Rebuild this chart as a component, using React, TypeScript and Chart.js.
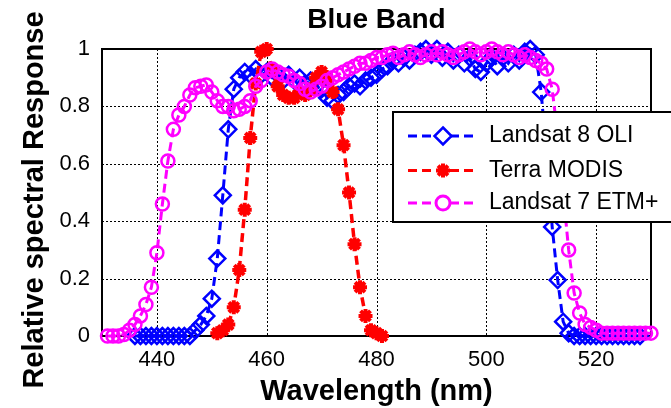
import React, { useEffect, useRef } from 'react';
import { Chart, registerables } from 'chart.js';

Chart.register(...registerables);

const chartTitle = 'Blue Band';
const xAxisTitle = 'Wavelength (nm)';
const yAxisTitle = 'Relative spectral Response';
const xTickValues = [440, 460, 480, 500, 520];
const yTickValues = [0, 0.2, 0.4, 0.6, 0.8, 1];
const seriesNames = ['Landsat 8 OLI', 'Terra MODIS', 'Landsat 7 ETM+'];
const seriesColors = ['#0000ff', '#ff0000', '#ff00ff'];

const oliWavelength = [
  436, 437, 438, 439, 440, 441, 442, 443, 444, 445, 446, 447, 448, 449, 450, 451, 452, 453, 454, 455,
  456, 457, 458, 459, 460, 461, 462, 463, 464, 465, 466, 467, 468, 469, 470, 471, 472, 473, 474, 475,
  476, 477, 478, 479, 480, 481, 482, 483, 484, 485, 486, 487, 488, 489, 490, 491, 492, 493, 494, 495,
  496, 497, 498, 499, 500, 501, 502, 503, 504, 505, 506, 507, 508, 509, 510, 511, 512, 513, 514, 515,
  516, 517, 518, 519, 520, 521, 522, 523, 524, 525, 526, 527, 528,
];
const oliResponse = [
  0, 0, 0, 0, 0, 0, 0, 0, 0, 0, 0, 0.02, 0.04, 0.07, 0.13, 0.27, 0.49, 0.72, 0.86, 0.9,
  0.92, 0.91, 0.93, 0.91, 0.92, 0.9, 0.91, 0.89, 0.91, 0.89, 0.9, 0.88, 0.89, 0.87, 0.86, 0.83, 0.82, 0.84, 0.85, 0.87,
  0.88, 0.87, 0.89, 0.9, 0.91, 0.93, 0.94, 0.96, 0.95, 0.97, 0.96, 0.98, 0.99, 1.0, 0.98, 1.0, 0.97, 0.99, 0.96, 0.98,
  0.95, 0.97, 0.93, 0.92, 0.95, 0.97, 0.94, 0.97, 0.95, 0.98, 0.96, 0.99, 1.0, 0.98, 0.85, 0.62, 0.38, 0.195, 0.05, 0.01,
  0, 0, 0, 0, 0, 0, 0, 0, 0, 0, 0, 0, 0,
];

const modisWavelength = [
  451, 452, 453, 454, 455, 456, 457, 458, 459, 460, 461, 462, 463, 464, 465, 466, 467, 468, 469, 470,
  471, 472, 473, 474, 475, 476, 477, 478, 479, 480, 481,
];
const modisResponse = [
  0.01, 0.02, 0.04, 0.1, 0.23, 0.44, 0.69, 0.88, 0.99, 1.0, 0.93, 0.87, 0.84, 0.83, 0.83, 0.85, 0.84, 0.86, 0.9, 0.92,
  0.9, 0.85, 0.79, 0.665, 0.5, 0.32, 0.17, 0.07, 0.02, 0.01, 0,
];

const etmWavelength = [
  431, 432, 433, 434, 435, 436, 437, 438, 439, 440, 441, 442, 443, 444, 445, 446, 447, 448, 449, 450,
  451, 452, 453, 454, 455, 456, 457, 458, 459, 460, 461, 462, 463, 464, 465, 466, 467, 468, 469, 470,
  471, 472, 473, 474, 475, 476, 477, 478, 479, 480, 481, 482, 483, 484, 485, 486, 487, 488, 489, 490,
  491, 492, 493, 494, 495, 496, 497, 498, 499, 500, 501, 502, 503, 504, 505, 506, 507, 508, 509, 510,
  511, 512, 513, 514, 515, 516, 517, 518, 519, 520, 521, 522, 523, 524, 525, 526, 527, 528, 529, 530,
];
const etmResponse = [
  0, 0, 0, 0.005, 0.02, 0.04, 0.07, 0.11, 0.17, 0.29, 0.46, 0.61, 0.72, 0.77, 0.8, 0.84, 0.865, 0.87, 0.875, 0.85,
  0.82, 0.8, 0.8, 0.785, 0.79, 0.8, 0.82, 0.87, 0.89, 0.92, 0.93, 0.92, 0.91, 0.905, 0.89, 0.88, 0.86, 0.85, 0.86, 0.87,
  0.89, 0.9, 0.91, 0.92, 0.93, 0.94, 0.95, 0.95, 0.96, 0.97, 0.97, 0.98, 0.985, 0.97, 0.98, 0.99, 0.98, 0.97, 0.98, 0.99,
  0.98, 0.99, 0.98, 0.97, 0.98, 0.99, 1.0, 0.99, 0.98, 0.99, 1.0, 0.99, 0.98, 0.99, 0.98, 0.97, 0.98, 0.97, 0.96, 0.95,
  0.93, 0.86, 0.7, 0.5, 0.3, 0.15, 0.08, 0.04, 0.03, 0.02, 0.01, 0.01, 0.01, 0.01, 0.01, 0.01, 0.01, 0.01, 0.01, 0.01,
];

const FONT = '"Liberation Sans", Arial, Helvetica, sans-serif';

function toPoints(xs: number[], ys: number[]) {
  return xs.map((x, i) => ({ x, y: ys[i] }));
}

function drawMarker(ctx: CanvasRenderingContext2D, kind: number, x: number, y: number) {
  ctx.save();
  ctx.setLineDash([]);
  ctx.strokeStyle = seriesColors[kind];
  ctx.fillStyle = seriesColors[kind];
  if (kind === 0) {
    const r = 8.5;
    ctx.lineWidth = 2.5;
    ctx.beginPath();
    ctx.moveTo(x, y - r);
    ctx.lineTo(x + r, y);
    ctx.lineTo(x, y + r);
    ctx.lineTo(x - r, y);
    ctx.closePath();
    ctx.fillStyle = '#fff';
    ctx.fill();
    ctx.stroke();
  } else if (kind === 1) {
    const r = 7;
    ctx.lineWidth = 4;
    ctx.beginPath();
    ctx.moveTo(x - r, y);
    ctx.lineTo(x + r, y);
    ctx.moveTo(x, y - r);
    ctx.lineTo(x, y + r);
    const d = r * Math.SQRT1_2;
    ctx.moveTo(x - d, y - d);
    ctx.lineTo(x + d, y + d);
    ctx.moveTo(x - d, y + d);
    ctx.lineTo(x + d, y - d);
    ctx.stroke();
  } else {
    ctx.lineWidth = 3;
    ctx.beginPath();
    ctx.arc(x, y, 7, 0, Math.PI * 2);
    ctx.fillStyle = '#fff';
    ctx.fill();
    ctx.stroke();
  }
  ctx.restore();
}

const decorPlugin = {
  id: 'decor',
  beforeDatasetsDraw(chart: any) {
    const { ctx, chartArea: a, scales } = chart;
    ctx.save();
    ctx.strokeStyle = '#000';
    ctx.lineWidth = 1;
    ctx.setLineDash([2, 2]);
    ctx.beginPath();
    xTickValues.forEach((v) => {
      const px = Math.round(scales.x.getPixelForValue(v)) + 0.5;
      ctx.moveTo(px, a.top);
      ctx.lineTo(px, a.bottom);
    });
    yTickValues.forEach((v) => {
      if (v <= 0 || v >= 1) return;
      const py = Math.round(scales.y.getPixelForValue(v)) + 0.5;
      ctx.moveTo(a.left, py);
      ctx.lineTo(a.right, py);
    });
    ctx.stroke();
    ctx.setLineDash([]);
    ctx.lineWidth = 2;
    ctx.strokeRect(a.left, a.top, a.right - a.left, a.bottom - a.top);
    ctx.restore();
  },
  afterDraw(chart: any) {
    const { ctx, chartArea: a } = chart;
    ctx.save();
    ctx.fillStyle = '#000';
    ctx.font = `bold 28px ${FONT}`;
    ctx.textAlign = 'center';
    ctx.textBaseline = 'alphabetic';
    ctx.fillText(chartTitle, (a.left + a.right) / 2, 28);
    ctx.font = `bold 29px ${FONT}`;
    ctx.fillText(xAxisTitle, (a.left + a.right) / 2, 400);
    ctx.save();
    ctx.translate(43, 200);
    ctx.rotate(-Math.PI / 2);
    ctx.fillText(yAxisTitle, 0, 0);
    ctx.restore();

    const bx = 393;
    const by = 112;
    const bw = 290;
    const bh = 110;
    ctx.fillStyle = '#fff';
    ctx.fillRect(bx, by, bw, bh);
    ctx.strokeStyle = '#000';
    ctx.lineWidth = 2;
    ctx.setLineDash([]);
    ctx.strokeRect(bx, by, bw, bh);
    const rows = [136, 170.5, 203];
    seriesNames.forEach((name, i) => {
      const y = rows[i];
      ctx.save();
      ctx.strokeStyle = seriesColors[i];
      ctx.lineWidth = 3;
      ctx.setLineDash([9, 5]);
      ctx.beginPath();
      ctx.moveTo(408, y);
      ctx.lineTo(477, y);
      ctx.stroke();
      ctx.restore();
      drawMarker(ctx, i, 443, y);
      ctx.fillStyle = '#000';
      ctx.font = `23px ${FONT}`;
      ctx.textAlign = 'left';
      ctx.textBaseline = 'middle';
      ctx.fillText(name, 489, y);
    });
    ctx.restore();
  },
};

export default function App() {
  const canvasRef = useRef<HTMLCanvasElement | null>(null);

  useEffect(() => {
    const canvas = canvasRef.current;
    if (!canvas) return;
    const chart = new Chart(canvas, {
      type: 'line',
      data: {
        datasets: [
          {
            label: seriesNames[2],
            data: toPoints(etmWavelength, etmResponse),
            borderColor: seriesColors[2],
            backgroundColor: 'rgba(0,0,0,0)',
            borderWidth: 3,
            borderDash: [9, 5],
            pointStyle: 'circle',
            pointRadius: 6.5,
            pointBorderWidth: 2.5,
            pointBackgroundColor: 'rgba(0,0,0,0)',
            pointBorderColor: seriesColors[2],
            order: 1,
            clip: false,
          } as any,
          {
            label: seriesNames[1],
            data: toPoints(modisWavelength, modisResponse),
            borderColor: seriesColors[1],
            backgroundColor: seriesColors[1],
            borderWidth: 3.5,
            borderDash: [9, 5],
            pointStyle: 'star',
            pointRadius: 7,
            pointBorderWidth: 4,
            pointBackgroundColor: seriesColors[1],
            pointBorderColor: seriesColors[1],
            order: 2,
            clip: false,
          } as any,
          {
            label: seriesNames[0],
            data: toPoints(oliWavelength, oliResponse),
            borderColor: seriesColors[0],
            backgroundColor: 'rgba(0,0,0,0)',
            borderWidth: 3,
            borderDash: [9, 5],
            pointStyle: 'rectRot',
            pointRadius: 8,
            pointBorderWidth: 2.5,
            pointBackgroundColor: 'rgba(0,0,0,0)',
            pointBorderColor: seriesColors[0],
            order: 3,
            clip: false,
          } as any,
        ],
      },
      options: {
        responsive: false,
        animation: false,
        layout: { padding: { top: 49, left: 0, right: 20, bottom: 0 } },
        plugins: {
          legend: { display: false },
          title: { display: false },
          tooltip: { enabled: false },
        },
        scales: {
          x: {
            type: 'linear',
            min: 430,
            max: 530,
            afterBuildTicks: (scale: any) => {
              scale.ticks = xTickValues.map((v) => ({ value: v }));
            },
            afterFit: (scale: any) => {
              scale.height = 72;
            },
            grid: { display: false, drawTicks: false },
            border: { display: false },
            ticks: {
              color: '#000',
              padding: 11,
              font: { family: FONT, size: 22 },
              maxRotation: 0,
              callback: (v: any) => String(v),
            },
          },
          y: {
            type: 'linear',
            min: 0,
            max: 1,
            afterBuildTicks: (scale: any) => {
              scale.ticks = yTickValues.map((v) => ({ value: v }));
            },
            afterFit: (scale: any) => {
              scale.width = 102;
            },
            grid: { display: false, drawTicks: false },
            border: { display: false },
            ticks: {
              color: '#000',
              padding: 12,
              font: { family: FONT, size: 22 },
              callback: (v: any) => String(v),
            },
          },
        },
      } as any,
      plugins: [decorPlugin],
    });
    return () => chart.destroy();
  }, []);

  return (
    <div style={{ position: 'absolute', left: 0, top: 0, width: 671, height: 408, background: '#fff' }}>
      <canvas ref={canvasRef} width={671} height={408} style={{ display: 'block' }} />
    </div>
  );
}
